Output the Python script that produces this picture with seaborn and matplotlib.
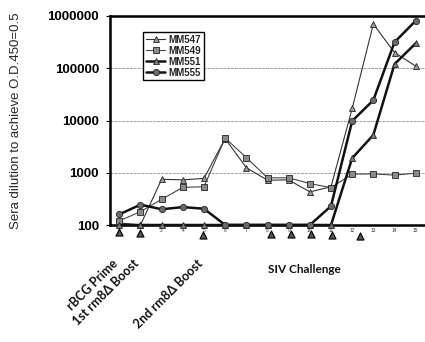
import numpy as np
import pandas as pd
import matplotlib
matplotlib.use("Agg")
import matplotlib.pyplot as plt
import seaborn as sns

# weeks and antibody titres
weeks = list(range(1, 16))
mm547 = [110, 100, 750, 730, 780, 4500, 1250, 720, 730, 430, 540, 17000, 700000, 200000, 110000]
mm549 = [120, 180, 310, 525, 540, 4600, 1950, 800, 800, 620, 520, 940, 950, 900, 980]
mm551 = [100, 100, 100, 100, 100, 100, 100, 100, 100, 100, 100, 1900, 5300, 120000, 300000]
mm555 = [160, 245, 200, 220, 205, 100, 100, 100, 100, 100, 230, 9800, 24500, 315000, 810000]

# immunisation / challenge time points marked under the axis
shot_weeks = [1, 2, 4.96, 8.15, 9.1, 10.07, 11.06, 12.35]
shot_drop = [0.032, 0.040, 0.048, 0.043, 0.043, 0.043, 0.048, 0.051]

phase_labels = ["rBCG Prime", "1st rm8\u0394 Boost", "2nd rm8\u0394 Boost"]
phase_weeks = [1, 2, 5]

sns.set_theme(style="white")
plt.rcParams["font.family"] = ["Liberation Sans", "DejaVu Sans"]

fig = plt.figure(figsize=(4.25, 3.42), dpi=100)
ax = fig.add_axes([110 / 425, 1 - 225 / 342, 315 / 425, 209 / 342])

series = [
    ("MM547", mm547, "^", 0.8, "#9a9a9a", "#333333"),
    ("MM549", mm549, "s", 0.8, "#8a8a8a", "#444444"),
    ("MM551", mm551, "^", 1.8, "#7a7a7a", "#111111"),
    ("MM555", mm555, "o", 1.8, "#6a6a6a", "#111111"),
]
for name, vals, mk, lw, fc, lc in series:
    d = pd.DataFrame({"week": weeks, "titre": vals})
    sns.lineplot(data=d, x="week", y="titre", ax=ax, color=lc,
                 linewidth=lw, marker=mk, markersize=4.5, markerfacecolor=fc,
                 markeredgecolor="#222222", markeredgewidth=0.6, label=name,
                 clip_on=False, zorder=3)

ax.set_yscale("log")
ax.set_ylim(100, 1000000)
ax.set_xlim(0.56, 15.44)
ax.set_yticks([100, 1000, 10000, 100000, 1000000])
ax.set_yticklabels(["100", "1000", "10000", "100000", "1000000"],
                   fontsize=9.5, fontweight="bold")
ax.yaxis.set_minor_locator(matplotlib.ticker.NullLocator())
ax.tick_params(axis="y", length=3, width=0.8, pad=5, left=True, colors="black")
ax.set_xticks(weeks[2:])
ax.set_xticklabels([str(w) for w in weeks[2:]], fontsize=3.5, color="#333333")
ax.tick_params(axis="x", length=0, pad=2)
ax.set_xlabel("")
ax.set_ylabel("Sera dilution to achieve O.D.450=0.5", fontsize=9.5)
ax.yaxis.set_label_coords(-0.28, 0.5)

for v in [1000, 10000, 100000]:
    ax.axhline(v, color="#a0a0a0", linewidth=0.7, linestyle=(0, (3, 1)), zorder=1)

for s in ["left", "bottom", "top"]:
    ax.spines[s].set_visible(True)
    ax.spines[s].set_color("black")
    ax.spines[s].set_linewidth(1.8)
ax.spines["right"].set_visible(False)

# triangles under the axis
ax.scatter(shot_weeks, [-d for d in shot_drop], marker="^", s=26,
           facecolor="#555555", edgecolor="black", linewidth=0.8,
           transform=ax.get_xaxis_transform(), clip_on=False, zorder=4)

for lab, w in zip(phase_labels, phase_weeks):
    ax.text(w + 0.05, -0.155, lab, transform=ax.get_xaxis_transform(), rotation=45,
            ha="right", va="top", fontsize=9, fontweight="bold",
            family=["Lato", "DejaVu Sans"], color="#111111")
ax.text(9.75, -0.215, "SIV Challenge", transform=ax.get_xaxis_transform(),
        ha="center", va="center", fontsize=8.5, fontweight="bold",
        family=["Lato", "DejaVu Sans"], color="#111111")

leg = ax.legend(loc="upper left", bbox_to_anchor=(0.105, 0.925), frameon=True,
                fancybox=False, framealpha=1, edgecolor="black", handlelength=2,
                handletextpad=0.3, labelspacing=0.1, borderpad=0.3,
                borderaxespad=0, prop={"size": 7, "weight": "bold"})
leg.get_frame().set_linewidth(1.0)

fig.savefig("out.png", dpi=100)
